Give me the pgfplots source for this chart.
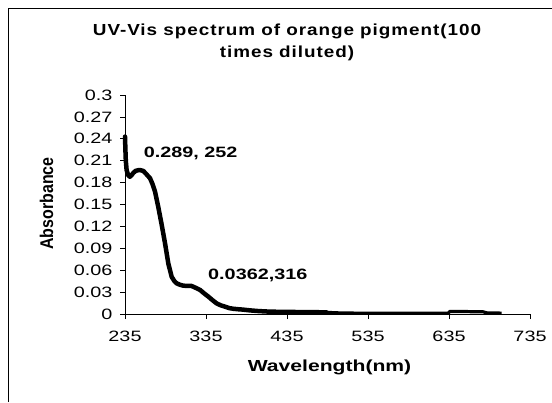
\documentclass[border=0pt]{standalone}
\usepackage{pgfplots}
\pgfplotsset{compat=1.18}
\usepackage{fontspec}
\setmainfont{Liberation Sans}[FakeStretch=1.32]
\newfontfamily\titlefont{Liberation Sans}[FakeStretch=1.18, LetterSpace=6]
\newfontfamily\plainfont{Liberation Sans}
\begin{document}
\begin{tikzpicture}[x=1bp,y=1bp]
\useasboundingbox (0,0) rectangle (552,402);
\draw[line width=1bp] (8.5,0) -- (8.5,393.5) -- (552,393.5);
\begin{axis}[
  at={(125bp,88bp)}, anchor=south west,
  width=405bp, height=219bp, scale only axis,
  xmin=235, xmax=735, ymin=0, ymax=0.3,
  axis x line=bottom, axis y line=left,
  axis line style={-, line width=0.8bp},
  xtick={235,335,435,535,635,735},
  xticklabels={235,335,435,535,635,735},
  ytick={0,0.03,0.06,0.09,0.12,0.15,0.18,0.21,0.24,0.27,0.3},
  yticklabels={0,0.03,0.06,0.09,0.12,0.15,0.18,0.21,0.24,0.27,0.3},
  tick align=outside, major tick length=5bp,
  tick style={black, line width=0.8bp},
  ticklabel style={font=\fontsize{15bp}{17bp}\selectfont},
  xticklabel style={yshift=-8bp},
  yticklabel style={xshift=-4bp},
  /pgf/number format/assume math mode=true,
  clip=false,
]
\addplot[black, line width=4.5bp, line join=round, line cap=round] coordinates {
(235,0.243)(235.5,0.225)(236,0.21)(237,0.197)(239,0.19)(241,0.188)(243,0.19)
(245,0.193)(248,0.196)(251.5,0.197)(254,0.197)(257.6,0.196)(261,0.192)
(265.9,0.186)(269,0.178)(272,0.168)(276,0.147)(280,0.124)(284.4,0.097)
(288.5,0.069)(292.6,0.051)(296,0.045)(298.8,0.042)(303,0.04)(307,0.0388)
(312,0.0385)(317,0.0385)(322,0.036)(327.6,0.033)(333,0.028)(338,0.0237)
(343,0.019)(348,0.0146)(353,0.012)(358.5,0.01)(364,0.008)(368.7,0.0072)
(375,0.0065)(381,0.006)(389,0.005)(400,0.004)(414,0.0032)(440,0.0028)
(470,0.0025)(484,0.0022)
};
\addplot[black, line width=3.2bp, line join=round] coordinates {
(484,0.0022)(500,0.0015)(533,0.001)(600,0.001)(634,0.001)(636,0.0035)
(650,0.0035)(670,0.003)(677,0.003)(682,0.0015)(700,0.0012)
};
\node[anchor=west, inner sep=0pt, font=\bfseries\fontsize{15bp}{17bp}\selectfont]
  at (axis cs:258,0.2205) {0.289, 252};
\node[anchor=west, inner sep=0pt, font=\bfseries\fontsize{15bp}{17bp}\selectfont]
  at (axis cs:337.5,0.0534) {0.0362,316};
\end{axis}
\node[align=center, font=\titlefont\bfseries\fontsize{16bp}{22bp}\selectfont]
  at (287,360) {UV-Vis spectrum of orange pigment(100\\times diluted)};
\node[font=\bfseries\fontsize{16bp}{18bp}\selectfont] at (329.5,35) {Wavelength(nm)};
\node[rotate=90, font=\plainfont\bfseries\fontsize{16bp}{18bp}\selectfont] at (46.5,198.5) {\scalebox{1}[1.15]{Absorbance}};
\end{tikzpicture}
\end{document}
